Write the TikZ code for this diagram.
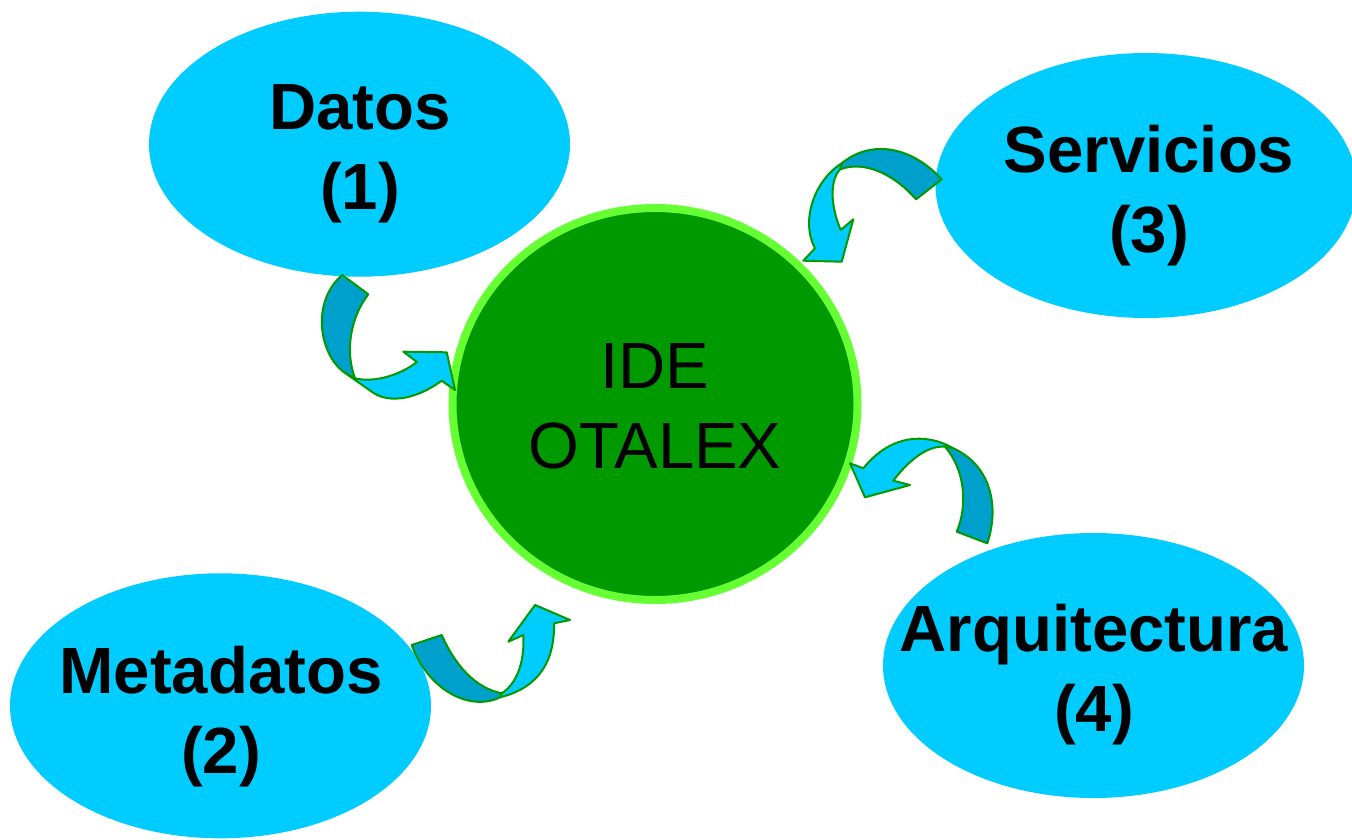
\documentclass[tikz,border=0pt]{standalone}
\usepackage{fontspec}
\setmainfont{Liberation Sans}
\usepackage{tikz}
\usetikzlibrary{shapes.geometric}
\usepackage{xcolor}
\definecolor{cyanB}{RGB}{0,204,255}
\definecolor{bandDark}{RGB}{0,160,204}
\definecolor{edgeGreen}{RGB}{0,153,0}
\definecolor{hubGreen}{RGB}{0,153,0}
\definecolor{ringGreen}{RGB}{102,255,51}

\begin{document}
\begin{tikzpicture}[x=0.75pt,y=0.75pt,yscale=-1,xscale=1,
  bubble/.style={ellipse, fill=cyanB, inner sep=0pt, minimum width=315.75pt, minimum height=198.75pt},
  hub/.style={ellipse, fill=hubGreen, draw=ringGreen, line width=6pt, inner sep=0pt, minimum width=303.75pt, minimum height=294pt},
  bubbletext/.style={inner sep=0pt, align=center, font=\bfseries\fontsize{49pt}{60pt}\selectfont},
  hubtext/.style={inner sep=0pt, align=center, font=\fontsize{49pt}{60pt}\selectfont},
  bandback/.style={fill=bandDark, draw=edgeGreen, line width=1.5pt, line join=round},
  bandfront/.style={fill=cyanB, draw=edgeGreen, line width=1.5pt, line join=round}]
\useasboundingbox (0,0) rectangle (1352,839);

%Shape: Ellipse [id:dp2841163907715532] 
\node [bubble] (datos) at (359.5,144.2) {};
%Shape: Ellipse [id:dp6619024871350173] 
\node [bubble] (servicios) at (1146,185.5) {};
%Shape: Ellipse [id:dp9173304558126084] 
\node [bubble] (metadatos) at (220.5,705.8) {};
%Shape: Ellipse [id:dp4408826175390261] 
\node [bubble] (arquitectura) at (1093.5,665.5) {};
%Shape: Circle [id:dp5530971842667120] 
\node [hub] (ide) at (655,404) {};

% Text Nodes
\node [bubbletext] (datosT) at (360,153.5) {Datos\\(1)};
\node [bubbletext] (serviciosT) at (1149,195.2) {Servicios\\(3)};
\node [bubbletext] (metadatosT) at (221,716.2) {Metadatos\\(2)};
\node [bubbletext] (arquitecturaT) at (1094,674.2) {Arquitectura\\(4)};
\node [hubtext] (ideT) at (655,406.6) {IDE\\OTALEX};

%Curved Arrow [id:dp1956240387126684] Datos
\draw [bandfront] (343.3,371.7) -- (355,378.3) .. controls (375,383) and (400,375) .. (417,362) -- (403.3,351.7) -- (446.7,352.3) -- (455,390) -- (441.7,380.7) .. controls (418,398) and (390,405) .. (371.7,391.7) -- cycle ;
\draw [bandback] (342.3,275) -- (368.3,294.3) .. controls (350,318) and (345,352) .. (355,378.3) -- (343.3,371.7) .. controls (318,352) and (312,300) .. (342.3,275) -- cycle ;
%Curved Arrow [id:dp7302418865419952] Servicios
\draw [bandback] (841.7,163.3) .. controls (870,140) and (910,145) .. (941.7,179.3) -- (916,199.3) .. controls (895,175) and (865,160) .. (840,169.3) -- cycle ;
\draw [bandfront] (841.7,163.3) .. controls (815,180) and (800,220) .. (815,248.3) -- (803.3,260.7) -- (841.7,261.7) -- (853.3,219.3) -- (840.7,230) .. controls (830,205) and (830,180) .. (840,169.3) -- cycle ;
%Curved Arrow [id:dp3385061207741196] Arquitectura
\draw [bandback] (945,446.7) .. controls (965,470) and (968,505) .. (956.7,531.7) -- (987.3,543.3) .. controls (1000,505) and (990,465) .. (953.3,448.3) -- cycle ;
\draw [bandfront] (953.3,448.3) .. controls (925,432) and (890,435) .. (863.3,468.3) -- (850,463.3) -- (865,497.3) -- (910,485) -- (893.3,480.7) .. controls (905,465) and (925,445) .. (945,446.7) -- cycle ;
%Curved Arrow [id:dp8824401137695520] Metadatos
\draw [bandback] (411.7,645) -- (441.7,635) .. controls (455,665) and (475,688) .. (501.7,693.3) -- (500,697.3) .. controls (470,712) and (428,690) .. (411.7,645) -- cycle ;
\draw [bandfront] (500,697.3) .. controls (530,690) and (555,670) .. (554,623.3) -- (570,620) -- (535,605) -- (508.3,641.7) -- (523.3,635) .. controls (525,665) and (515,685) .. (501.7,693.3) -- cycle ;

\end{tikzpicture}
\end{document}
